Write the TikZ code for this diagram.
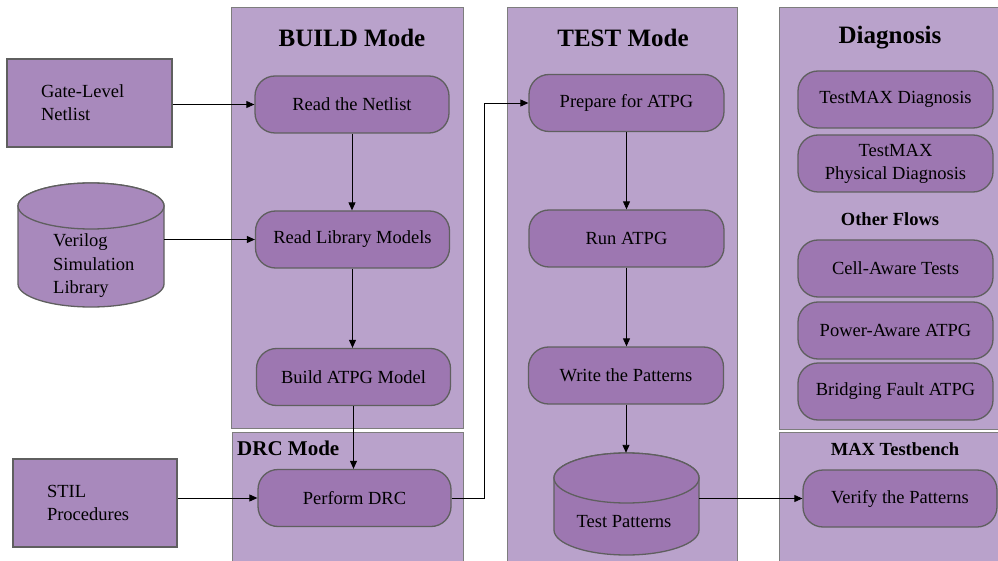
\documentclass[tikz,border=0pt]{standalone}
\usepackage{fontspec}
\setmainfont{Liberation Serif}
\usetikzlibrary{arrows.meta,calc}
\definecolor{panelbg}{RGB}{185,162,203}
\definecolor{nodebg}{RGB}{157,119,177}
\definecolor{inbg}{RGB}{168,137,188}
\definecolor{panelline}{RGB}{125,125,125}
\definecolor{nodeline}{RGB}{95,95,95}
\begin{document}
\begin{tikzpicture}[x=1pt,y=-1pt,
 panel/.style={draw=panelline, fill=panelbg, line width=1.4pt, anchor=north west, inner sep=0pt},
 proc/.style={draw=nodeline, fill=nodebg, line width=1.3pt, rounded corners=20pt, minimum width=194pt, minimum height=57pt, inner sep=0pt, align=center, font=\fontsize{18.5}{23}\selectfont},
 inbox/.style={draw=nodeline, fill=inbg, line width=1.3pt, align=left, inner ysep=0pt, inner xsep=34pt, font=\fontsize{18.5}{23}\selectfont},
 cyl/.style={draw=nodeline, fill=#1, line width=1.3pt},
 holder/.style={inner sep=0pt},
 title/.style={font=\fontsize{25}{30}\selectfont\bfseries, inner sep=0pt},
 subtitle/.style={font=\fontsize{18.5}{22}\selectfont\bfseries, inner sep=0pt},
 arr/.style={-{Triangle[length=8pt,width=7pt]}, line width=0.9pt},
 txt/.style={font=\fontsize{18.5}{23.5}\selectfont, align=left, inner sep=0pt}]
\useasboundingbox (0,0) rectangle (998,561);
% panels
\node[panel, minimum width=232pt, minimum height=421pt] (buildp) at (231,7) {};
\node[panel, minimum width=231pt, minimum height=140pt] (drcp) at (232,432) {};
\node[panel, minimum width=230pt, minimum height=560pt] (testp) at (507,7) {};
\node[panel, minimum width=225pt, minimum height=422pt] (diagp) at (779,7) {};
\node[panel, minimum width=225pt, minimum height=140pt] (maxp) at (779,432) {};
% titles
\node[title] (tb) at (352,38) {BUILD Mode};
\node[title] (tt) at (623,38) {TEST Mode};
\node[title] (td) at (890,38) {Diagnosis};
\node[subtitle, font=\fontsize{21}{25}\selectfont\bfseries, anchor=west] (tdrc) at (237,448) {DRC Mode};
\node[subtitle] (tof) at (890,219) {Other Flows};
\node[subtitle] (tmax) at (895,449) {MAX Testbench};
% cylinders
\path[cyl=inbg] (18,206) -- (18,284) arc[start angle=180, end angle=360, x radius=73pt, y radius=23pt] -- (164,206) arc[start angle=0, end angle=180, x radius=73pt, y radius=23pt] -- cycle;
\draw[cyl=inbg] (91,206) ellipse [x radius=73pt, y radius=23pt];
\node[holder, minimum width=146pt, minimum height=124pt] (vlib) at (91,245) {};
\node[txt, anchor=west] (vlibt) at (53,266) {Verilog\\Simulation\\Library};
\path[cyl=nodebg] (554,478) -- (554,530) arc[start angle=180, end angle=360, x radius=72.5pt, y radius=25pt] -- (699,478) arc[start angle=0, end angle=180, x radius=72.5pt, y radius=25pt] -- cycle;
\draw[cyl=nodebg] (626.5,478) ellipse [x radius=72.5pt, y radius=25pt];
\node[holder, minimum width=145pt, minimum height=102pt] (tpat) at (626.5,504) {};
\node[txt] (tpatt) at (624,522) {Test Patterns};
% inputs
\node[inbox, text width=97pt, minimum height=88pt] (gln) at (89.5,103) {Gate-Level\\Netlist};
\node[inbox, text width=96pt, minimum height=88pt] (stil) at (95,503) {STIL\\Procedures};
% process nodes
\node[proc] (rn) at (352,104.5) {Read the Netlist};
\node[proc] (rlib) at (352.5,239.5) {Read Library Models};
\node[proc] (bam) at (353.5,377) {Build ATPG Model};
\node[proc, minimum width=193pt] (drc) at (354.5,498) {Perform DRC};
\node[proc, minimum width=195pt] (prep) at (626.5,103) {Prepare for ATPG};
\node[proc, minimum width=195pt] (run) at (626.5,238.5) {Run ATPG};
\node[proc, minimum width=195pt] (wp) at (626,375.5) {Write the Patterns};
\node[proc, minimum width=195pt] (tmd) at (895.5,99.5) {TestMAX Diagnosis};
\node[proc, minimum width=195pt] (tmpd) at (895.5,163.5) {TestMAX\\Physical Diagnosis};
\node[proc, minimum width=195pt] (cat) at (895.5,268.5) {Cell-Aware Tests};
\node[proc, minimum width=195pt] (pat) at (895.5,330.5) {Power-Aware ATPG};
\node[proc, minimum width=195pt] (bfa) at (895.5,391.5) {Bridging Fault ATPG};
\node[proc] (ver) at (900,498.5) {Verify the Patterns};
% connectors
\draw[arr] (gln.east |- rn.west) -- (rn.west);
\draw[arr] (vlib.east |- rlib.west) -- (rlib.west);
\draw[arr] (stil.east |- drc.west) -- (drc.west);
\draw[arr] (rn.south) -- (rn.south |- rlib.north);
\draw[arr] (rlib.south) -- (rlib.south |- bam.north);
\draw[arr] (bam.south) -- (bam.south |- drc.north);
\draw[arr] (drc.east) -- ++(33,0) |- (prep.west);
\draw[arr] (prep.south) -- (prep.south |- run.north);
\draw[arr] (run.south) -- (run.south |- wp.north);
\draw[arr] (wp.south) -- (wp.south |- tpat.north);
\draw[arr] (tpat.east |- ver.west) -- (ver.west);
\end{tikzpicture}
\end{document}
